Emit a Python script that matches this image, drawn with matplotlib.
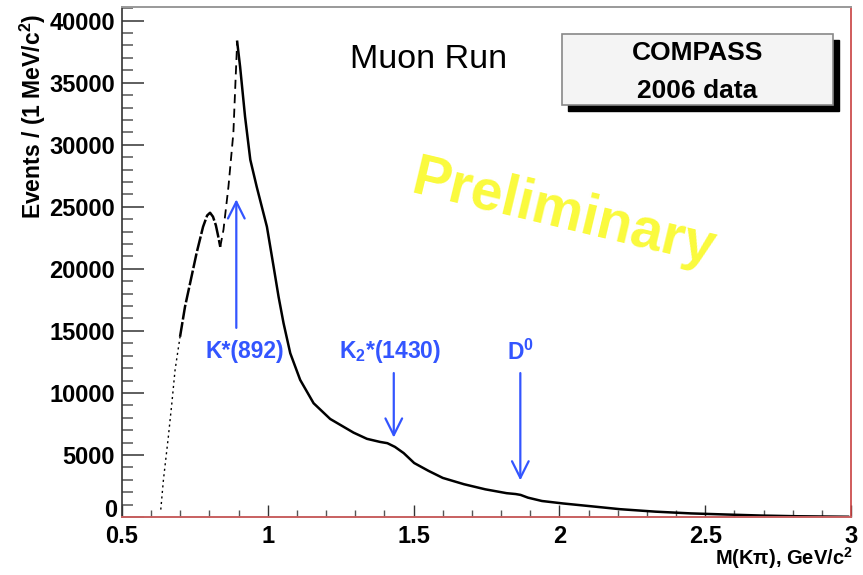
import matplotlib
matplotlib.use("Agg")
import matplotlib.pyplot as plt
import numpy as np
from matplotlib.patches import Rectangle
from matplotlib.ticker import MultipleLocator, FuncFormatter

plt.rcParams['font.family'] = ['Liberation Sans', 'DejaVu Sans']
plt.rcParams['mathtext.fontset'] = 'custom'
plt.rcParams['mathtext.rm'] = 'Liberation Sans:bold'
plt.rcParams['mathtext.it'] = 'Liberation Sans:bold'
plt.rcParams['mathtext.bf'] = 'Liberation Sans:bold'

# K-pi invariant mass spectrum (GeV/c^2) and events per 1 MeV/c^2
mass = [0.633, 0.642, 0.659, 0.671, 0.682, 0.699, 0.716, 0.736, 0.756, 0.778,
        0.792, 0.802, 0.812, 0.822, 0.831, 0.837, 0.848, 0.865, 0.882, 0.889,
        0.895, 0.905, 0.922, 0.940, 0.962, 0.997, 1.020, 1.037, 1.054, 1.077,
        1.111, 1.157, 1.214, 1.294, 1.340, 1.385, 1.410, 1.436, 1.466, 1.502,
        1.551, 1.600, 1.673, 1.746, 1.819, 1.850, 1.867, 1.892, 1.940, 2.013,
        2.111, 2.208, 2.330, 2.451, 2.573, 2.695, 2.816, 2.990]
events = [600, 2980, 6480, 9190, 11850, 14520, 16940, 19110, 21290, 23390,
          24300, 24520, 24200, 23500, 22500, 21770, 23150, 26610, 30970, 35000,
          38300, 36290, 32260, 28790, 26610, 23390, 20160, 17740, 15620, 13200,
          11050, 9170, 7900, 6800, 6300, 6050, 5950, 5650, 5150, 4350,
          3720, 3150, 2640, 2230, 1920, 1850, 1780, 1560, 1290, 1090,
          860, 630, 430, 290, 200, 115, 60, 20]

# resonance markers: label, mass, arrow start, arrow end, label position
res_labels = ["K*(892)", r"K$_{2}$*(1430)", r"D$^{0}$"]
res_mass = [0.892, 1.432, 1.866]
arrow_from = [15240, 11600, 11600]
arrow_to = [25600, 6400, 2950]
label_x = [0.92, 1.42, 1.866]

blue = '#3355ff'

fig = plt.figure(figsize=(8.63, 5.75), dpi=100)
ax = fig.add_axes([122/863, 58/575, 729/863, 510/575])

m = np.array(mass)
e = np.array(events)
# steep edges appear as sparse bins; draw them broken
lo = m <= 0.700
hump = (m >= 0.699) & (m <= 0.837)
rise = (m >= 0.837) & (m <= 0.895)
tail = m >= 0.895
ax.plot(m[lo], e[lo], color='black', lw=1.0, ls=(0, (1.5, 2.5)))
ax.plot(m[hump], e[hump], color='black', lw=1.8, ls=(0, (6, 1)))
ax.plot(m[rise], e[rise], color='black', lw=1.3, ls=(0, (5, 3)))
ax.plot(m[tail], e[tail], color='black', lw=1.8)

ax.set_xlim(0.5, 3.0)
ax.set_ylim(0, 41100)
ax.xaxis.set_major_locator(MultipleLocator(0.5))
ax.xaxis.set_minor_locator(MultipleLocator(0.1))
ax.yaxis.set_major_locator(MultipleLocator(5000))
ax.yaxis.set_minor_locator(MultipleLocator(1000))
ax.xaxis.set_major_formatter(FuncFormatter(lambda v, p: f"{v:g}"))
# the zero of the y axis is written separately, just above the x labels
ax.yaxis.set_major_formatter(FuncFormatter(lambda v, p: "" if v == 0 else f"{v:.0f}"))

ax.tick_params(axis='y', which='major', direction='in', length=16, width=1.1,
               color='#333333', labelsize=17, pad=5)
ax.tick_params(axis='y', which='minor', direction='in', length=8, width=1.1,
               color='#555555')
ax.tick_params(axis='x', which='major', direction='in', length=9, width=1.0,
               color='#333333', labelsize=17, pad=6)
ax.tick_params(axis='x', which='minor', direction='in', length=5, width=1.0,
               color='#555555')
for lab in ax.get_xticklabels() + ax.get_yticklabels():
    lab.set_fontweight('bold')
ax.annotate("0", xy=(0, 0), xycoords='axes fraction', xytext=(-3.6, 4.5),
            textcoords='offset points', ha='right', va='center',
            fontsize=17, fontweight='bold')

ax.spines['left'].set_color('#333333')
ax.spines['left'].set_linewidth(1.2)
ax.spines['top'].set_color('#999999')
ax.spines['top'].set_linewidth(1.4)
ax.spines['right'].set_color('#c84040')
ax.spines['right'].set_linewidth(1.2)
ax.spines['bottom'].set_color('#c86060')
ax.spines['bottom'].set_linewidth(1.4)

# resonance arrows and labels
for lbl, xm, y0, y1, lx in zip(res_labels, res_mass, arrow_from, arrow_to, label_x):
    ax.annotate('', xy=(xm, y1), xytext=(xm, y0),
                arrowprops=dict(arrowstyle='->,head_length=0.6,head_width=0.3',
                                color=blue, lw=1.6, mutation_scale=20,
                                shrinkA=0, shrinkB=0))
    ax.text(lx, 13300, lbl, color=blue, fontsize=16.5, fontweight='bold',
            ha='center', va='center')

ax.text(429/863, 1 - 59/575, "Muon Run", transform=fig.transFigure,
        fontsize=24.5, ha='center', va='center')

ax.text(563/863, 1 - 214/575, "Preliminary", transform=fig.transFigure,
        fontsize=41, fontweight='bold', color='#fafa3c', rotation=-13.5,
        ha='center', va='center', rotation_mode='anchor')

# experiment box with drop shadow
bx0, by0, bx1, by1 = 562, 34, 833, 105
sh = 6
fig.patches.append(Rectangle(((bx0 + sh)/863, 1 - (by1 + sh)/575),
                             (bx1 - bx0)/863, (by1 - by0)/575,
                             transform=fig.transFigure, facecolor='black',
                             edgecolor='black', zorder=5))
fig.patches.append(Rectangle((bx0/863, 1 - by1/575),
                             (bx1 - bx0)/863, (by1 - by0)/575,
                             transform=fig.transFigure, facecolor='#f4f4f4',
                             edgecolor='#888888', lw=1.2, zorder=6))
fig.text((bx0 + bx1)/2/863, 1 - 53/575, "COMPASS", fontsize=19,
         fontweight='bold', ha='center', va='center', zorder=7)
fig.text((bx0 + bx1)/2/863, 1 - 91/575, "2006 data", fontsize=19,
         fontweight='bold', ha='center', va='center', zorder=7)

fig.text(33/863, 1 - 116/575, r"Events / (1 MeV/c$^{2}$)", rotation=90,
         fontsize=16.5, fontweight='bold', ha='center', va='center')
fig.text(853/863, 1 - 558/575, r"M(K$\pi$), GeV/c$^{2}$",
         fontsize=14.5, fontweight='bold', ha='right', va='center')

fig.savefig("out.png", dpi=100)
